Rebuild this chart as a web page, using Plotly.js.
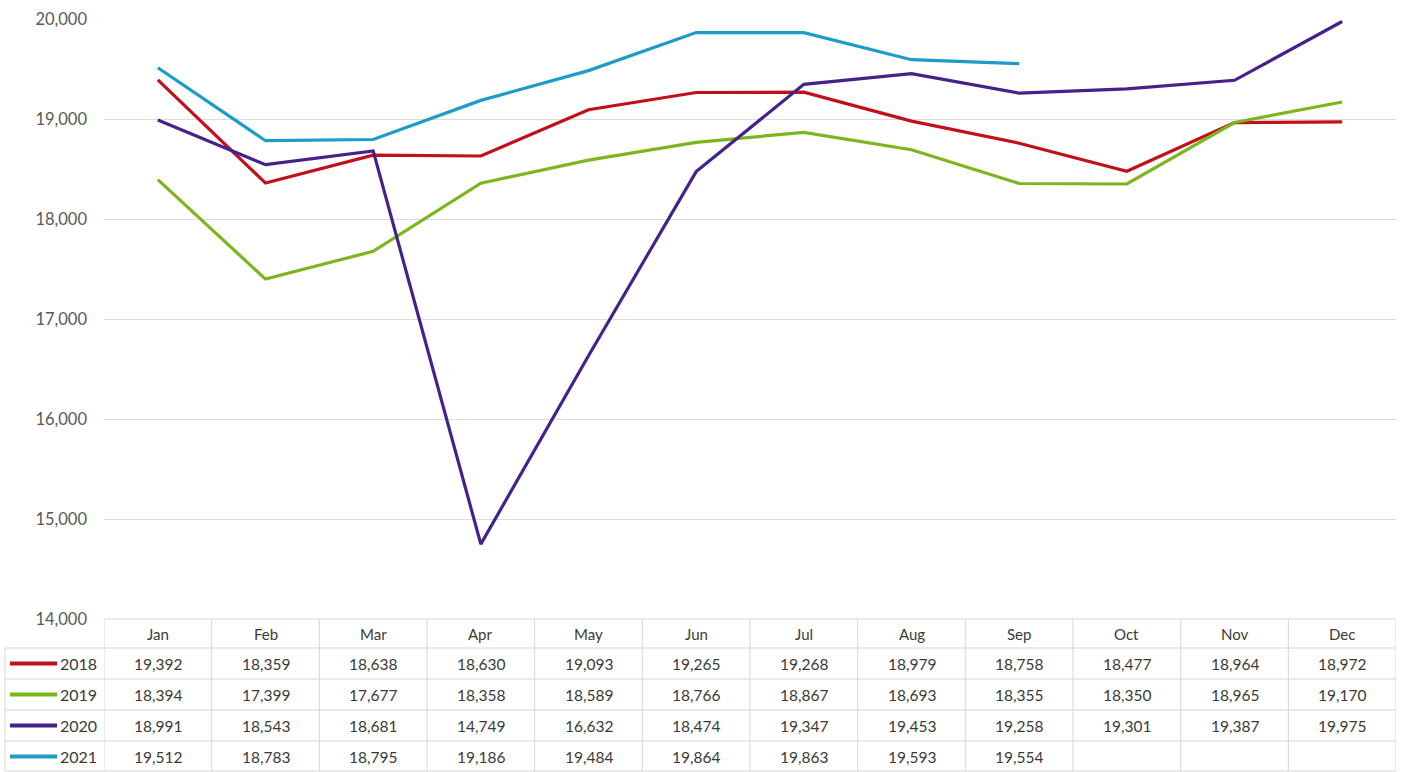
<!DOCTYPE html>
<html>
<head>
<meta charset="utf-8">
<script src="https://cdn.plot.ly/plotly-3.0.1.min.js"></script>
<style>
html,body{margin:0;padding:0;background:#fff;}
#chart{width:1402px;height:772px;}
</style>
</head>
<body>
<div id="chart"></div>
<script>
// ---- data ----
const months = ['Jan','Feb','Mar','Apr','May','Jun','Jul','Aug','Sep','Oct','Nov','Dec'];
const years = ['2018','2019','2020','2021'];
const v2018 = [19392,18359,18638,18630,19093,19265,19268,18979,18758,18477,18964,18972];
const v2019 = [18394,17399,17677,18358,18589,18766,18867,18693,18355,18350,18965,19170];
const v2020 = [18991,18543,18681,14749,16632,18474,19347,19453,19258,19301,19387,19975];
const v2021 = [19512,18783,18795,19186,19484,19864,19863,19593,19554];
const yTicks = [14000,15000,16000,17000,18000,19000,20000];

const seriesValues = [v2018, v2019, v2020, v2021];
const colors = ['#C0101C','#7BB61E','#45218A','#1B9CC9'];

// ---- layout constants (pixels) ----
const W = 1402, H = 772;
const mL = 104, mR = 6, mT = 19, mB = 153;
const plotW = W - mL - mR, plotH = H - mT - mB;
const axisY = mT + plotH;               // 619
const headerBottom = 648;
const rowH = 31;
const tableLeft = 5;
const FONT = 'Lato, "Open Sans", sans-serif';
const py = (Y) => (axisY - Y) / plotH;  // pixel y -> paper y
const px = (X) => (X - mL) / plotW;     // pixel x -> paper x
const fmt = (n) => n.toLocaleString('en-US');

const traces = seriesValues.map((vals, i) => ({
  type: 'scatter',
  mode: 'lines',
  name: years[i],
  x: months.slice(0, vals.length),
  y: vals,
  line: {color: colors[i], width: 3.2},
  hoverinfo: 'x+y+name'
}));

const annotations = [];
const shapes = [];
const lineColor = '#D6D6D6';
const txtColor = '#3A3A3A';

// header
months.forEach(m => {
  annotations.push({x: m, xref: 'x', y: py((axisY + headerBottom) / 2), yref: 'paper',
    text: m, showarrow: false, xanchor: 'center', yanchor: 'middle',
    font: {family: FONT, size: 15, color: txtColor}});
});
// rows
seriesValues.forEach((vals, r) => {
  const top = headerBottom + r * rowH;
  const cy = py(top + rowH / 2);
  vals.forEach((v, c) => {
    annotations.push({x: months[c], xref: 'x', y: cy, yref: 'paper',
      text: fmt(v), showarrow: false, xanchor: 'center', yanchor: 'middle',
      font: {family: FONT, size: 15.5, color: txtColor}});
  });
  // legend key line
  shapes.push({type: 'line', xref: 'paper', yref: 'paper',
    x0: px(10), x1: px(57), y0: cy, y1: cy,
    line: {color: colors[r], width: 4}});
  annotations.push({x: px(99), xref: 'paper', y: cy, yref: 'paper',
    text: years[r], showarrow: false, xanchor: 'right', yanchor: 'middle',
    font: {family: FONT, size: 16, color: txtColor}});
});

// table horizontal lines
shapes.push({type: 'line', xref: 'paper', yref: 'paper', x0: 0, x1: 1,
  y0: 0, y1: 0, line: {color: lineColor, width: 1}});
for (let r = 0; r <= years.length; r++) {
  const Y = Math.min(headerBottom + r * rowH, H - 1);
  shapes.push({type: 'line', xref: 'paper', yref: 'paper',
    x0: px(tableLeft), x1: 1, y0: py(Y), y1: py(Y),
    line: {color: lineColor, width: 1}});
}
// table vertical lines
for (let c = 0; c <= months.length; c++) {
  shapes.push({type: 'line', xref: 'x', yref: 'paper',
    x0: c - 0.5, x1: c - 0.5, y0: 0, y1: py(H - 1),
    line: {color: lineColor, width: 1}});
}
shapes.push({type: 'line', xref: 'paper', yref: 'paper',
  x0: px(tableLeft), x1: px(tableLeft), y0: py(headerBottom), y1: py(H - 1),
  line: {color: lineColor, width: 1}});

const layout = {
  width: W, height: H,
  margin: {l: mL, r: mR, t: mT, b: mB, pad: 0},
  paper_bgcolor: '#ffffff',
  plot_bgcolor: '#ffffff',
  showlegend: false,
  font: {family: FONT, color: '#595959'},
  xaxis: {
    type: 'category',
    categoryarray: months,
    range: [-0.5, months.length - 0.5],
    showticklabels: false,
    showgrid: false,
    zeroline: false,
    ticks: '',
    fixedrange: true
  },
  yaxis: {
    range: [14000, 20000],
    tickvals: yTicks,
    ticktext: yTicks.map(fmt),
    showgrid: true,
    gridcolor: '#DCDCDC',
    gridwidth: 1,
    zeroline: false,
    ticks: '',
    ticklabelstandoff: 16,
    tickfont: {family: FONT, size: 16.5, color: '#595959'},
    fixedrange: true
  },
  shapes: shapes,
  annotations: annotations
};

Plotly.newPlot('chart', traces, layout, {displayModeBar: false, staticPlot: true});
</script>
</body>
</html>
